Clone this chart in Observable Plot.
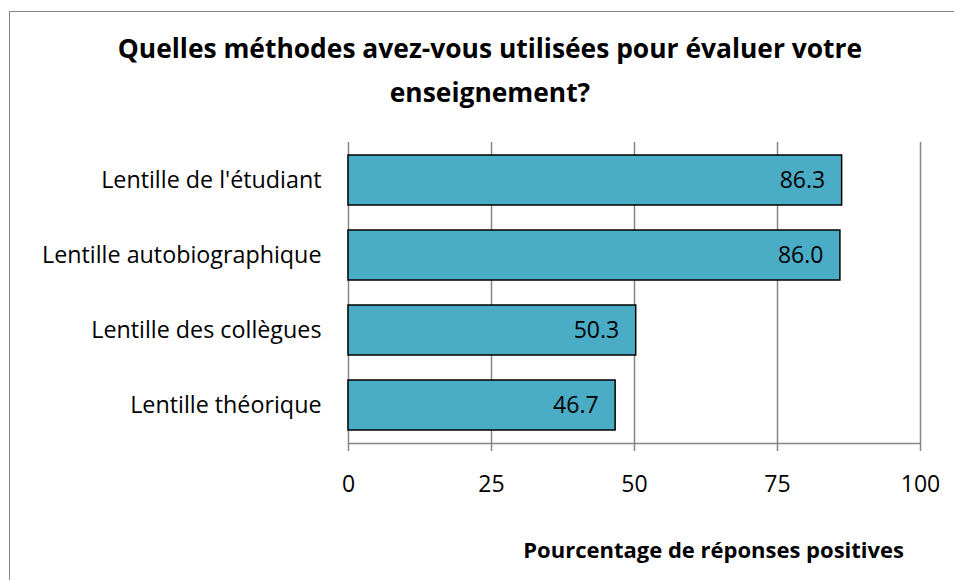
<!DOCTYPE html>
<html><head><meta charset="utf-8">
<script src="https://cdn.jsdelivr.net/npm/d3@7"></script>
<script src="https://cdn.jsdelivr.net/npm/@observablehq/plot@0.6"></script>
<style>
body{margin:0;background:#fff;font-family:"Open Sans",sans-serif}
#wrap{position:relative;width:954px;height:580px;overflow:hidden;background:#fff}
#frame{position:absolute;left:9px;top:11px;width:1100px;height:1100px;border:1.5px solid #868686;box-sizing:border-box}
#title{position:absolute;left:0;width:980px;top:26px;text-align:center;font-weight:bold;font-size:26.4px;line-height:44px;color:#000}
#xtitle{position:absolute;right:50px;top:534px;font-weight:bold;font-size:22px;line-height:30px;color:#000}
#chart{position:absolute;left:0;top:0}
</style></head>
<body>
<div id="wrap">
  <div id="frame"></div>
  <div id="chart"></div>
  <div id="title">Quelles méthodes avez-vous utilisées pour évaluer votre<br>enseignement?</div>
  <div id="xtitle">Pourcentage de réponses positives</div>
</div>
<script>
const categories = ["Lentille de l'étudiant", "Lentille autobiographique", "Lentille des collègues", "Lentille théorique"];
const values = [86.3, 86.0, 50.3, 46.7];
const xTicks = [0, 25, 50, 75, 100];

const data = categories.map((c, i) => ({cat: c, val: values[i]}));

const chart = Plot.plot({
  width: 954,
  height: 580,
  marginLeft: 348,
  marginRight: 34,
  marginTop: 142,
  marginBottom: 137,
  style: {fontFamily: "'Open Sans', sans-serif", fontSize: "23px", background: "transparent"},
  x: {domain: [0, 100], ticks: xTicks},
  y: {domain: categories, paddingInner: 1/3, paddingOuter: 1/6},
  marks: [
    Plot.ruleX(xTicks, {stroke: "#868686", strokeWidth: 1.5, strokeOpacity: 1}),
    Plot.frame({anchor: "bottom", stroke: "#868686", strokeWidth: 1.5}),
    Plot.axisX({ticks: xTicks, tickSize: 8, tickPadding: 24, stroke: "#868686", strokeWidth: 1.5, strokeOpacity: 1, fontSize: 23, fill: "#000", label: null, tickFormat: d => String(d)}),
    Plot.axisY({tickSize: 0, tickPadding: 27, fontSize: 23.3, fill: "#000", label: null}),
    Plot.barX(data, {x: "val", y: "cat", fill: "#4BACC6", stroke: "#000", strokeWidth: 1.5}),
    Plot.text(data, {x: "val", y: "cat", text: d => d.val.toFixed(1), textAnchor: "end", dx: -17, fontSize: 23, fill: "#000"})
  ]
});
document.getElementById("chart").appendChild(chart);
</script>
</body></html>
